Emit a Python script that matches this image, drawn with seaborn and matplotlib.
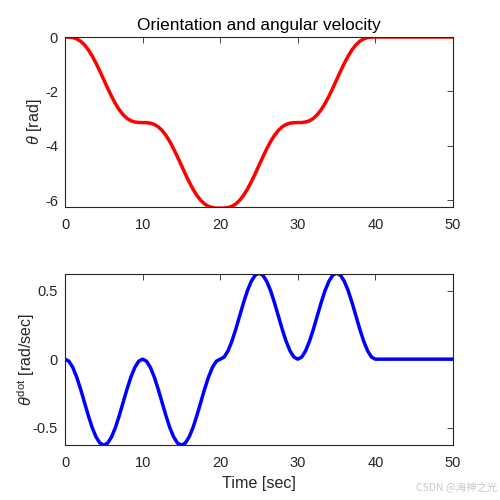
import numpy as np
import pandas as pd
import matplotlib
matplotlib.use("Agg")
import matplotlib.pyplot as plt
import seaborn as sns

# sampling grid (seconds)
time = np.arange(0, 50.5, 0.5)

theta = [
    0.000, -0.003, -0.020, -0.067, -0.153, -0.285, -0.467, -0.695, -0.963, -1.259,
    -1.571, -1.882, -2.179, -2.447, -2.675, -2.856, -2.989, -3.075, -3.121, -3.139,
    -3.142, -3.145, -3.162, -3.208, -3.295, -3.427, -3.609, -3.837, -4.105, -4.401,
    -4.712, -5.024, -5.321, -5.589, -5.816, -5.998, -6.131, -6.217, -6.263, -6.281,
    -6.283, -6.280, -6.263, -6.216, -6.130, -5.998, -5.816, -5.588, -5.320, -5.024,
    -4.712, -4.401, -4.104, -3.836, -3.608, -3.427, -3.294, -3.208, -3.162, -3.144,
    -3.142, -3.139, -3.122, -3.075, -2.989, -2.857, -2.675, -2.447, -2.179, -1.883,
    -1.571, -1.260, -0.963, -0.695, -0.466, -0.286, -0.153, -0.067, -0.021, -0.003,
    0.000, 0.000, 0.000, 0.000, 0.000, 0.000, 0.000, 0.000, 0.000, 0.000,
    0.000, 0.000, 0.000, 0.000, 0.000, 0.000, 0.000, 0.000, 0.000, 0.000,
    0.000,
]

theta_dot = [
    0.000, -0.015, -0.060, -0.130, -0.217, -0.314, -0.411, -0.499, -0.568, -0.613,
    -0.628, -0.613, -0.568, -0.499, -0.411, -0.314, -0.217, -0.130, -0.060, -0.015,
    0.000, -0.015, -0.060, -0.130, -0.217, -0.314, -0.411, -0.499, -0.568, -0.613,
    -0.628, -0.613, -0.568, -0.499, -0.411, -0.314, -0.217, -0.130, -0.060, -0.015,
    0.000, 0.015, 0.060, 0.130, 0.217, 0.314, 0.411, 0.499, 0.568, 0.613,
    0.628, 0.613, 0.568, 0.499, 0.411, 0.314, 0.217, 0.130, 0.060, 0.015,
    0.000, 0.015, 0.060, 0.130, 0.217, 0.314, 0.411, 0.499, 0.568, 0.613,
    0.628, 0.613, 0.568, 0.499, 0.411, 0.314, 0.217, 0.130, 0.060, 0.015,
    0.000, 0.000, 0.000, 0.000, 0.000, 0.000, 0.000, 0.000, 0.000, 0.000,
    0.000, 0.000, 0.000, 0.000, 0.000, 0.000, 0.000, 0.000, 0.000, 0.000,
    0.000,
]

x_ticks = [0, 10, 20, 30, 40, 50]
theta_ticks = [-6, -4, -2, 0]
dot_ticks = [-0.5, 0, 0.5]
dot_tick_labels = ["-0.5", "0", "0.5"]

df = pd.DataFrame({"time": time, "theta": theta, "theta_dot": theta_dot})

sns.set_theme(style="white")
plt.rcParams["font.family"] = ["Liberation Sans", "DejaVu Sans"]
plt.rcParams["axes.unicode_minus"] = False
plt.rcParams["mathtext.fontset"] = "custom"
plt.rcParams["mathtext.rm"] = "Liberation Sans"
plt.rcParams["mathtext.it"] = "Liberation Sans:italic"

axcol = "#262626"
fig = plt.figure(figsize=(5, 5), dpi=100)
ax1 = fig.add_axes([0.13, 0.586, 0.776, 0.340])
ax2 = fig.add_axes([0.13, 0.110, 0.776, 0.342])

sns.lineplot(data=df, x="time", y="theta", ax=ax1, color="#ff0000", linewidth=2.5)
sns.lineplot(data=df, x="time", y="theta_dot", ax=ax2, color="#0000ff", linewidth=2.5)

for ax in (ax1, ax2):
    ax.set_xlim(0, 50)
    ax.set_xticks(x_ticks)
    ax.tick_params(direction="in", top=True, right=True, length=4, width=0.6,
                   colors=axcol, labelsize=10.5, labelcolor=axcol)
    ax.tick_params(axis="x", pad=8)
    ax.tick_params(axis="y", pad=5)
    for sp in ax.spines.values():
        sp.set_color(axcol)
        sp.set_linewidth(0.8)
    ax.set_facecolor("white")

ax1.set_ylim(-6.24, 0)
ax1.set_yticks(theta_ticks)
ax1.set_xlabel("")
ax1.set_ylabel(r"$\mathit{\theta}$ [rad]", fontsize=11.6, color=axcol, labelpad=0.5)
ax1.set_title("Orientation and angular velocity", fontsize=12.4, color="black", pad=5)

ax2.set_ylim(-0.627, 0.622)
ax2.set_yticks(dot_ticks)
ax2.set_yticklabels(dot_tick_labels)
ax2.set_xlabel("Time [sec]", fontsize=11.6, color=axcol, labelpad=4)
ax2.set_ylabel(r"$\mathit{\theta}^{\mathrm{dot}}$ [rad/sec]", fontsize=11.6, color=axcol, labelpad=-3)

fig.text(0.995, 0.026, "CSDN @海神之光", ha="right", va="center", fontsize=7.5,
         color="#c8c8c8", family=["Noto Sans CJK SC", "DejaVu Sans"])

fig.savefig("out.png", dpi=100, facecolor="white")
